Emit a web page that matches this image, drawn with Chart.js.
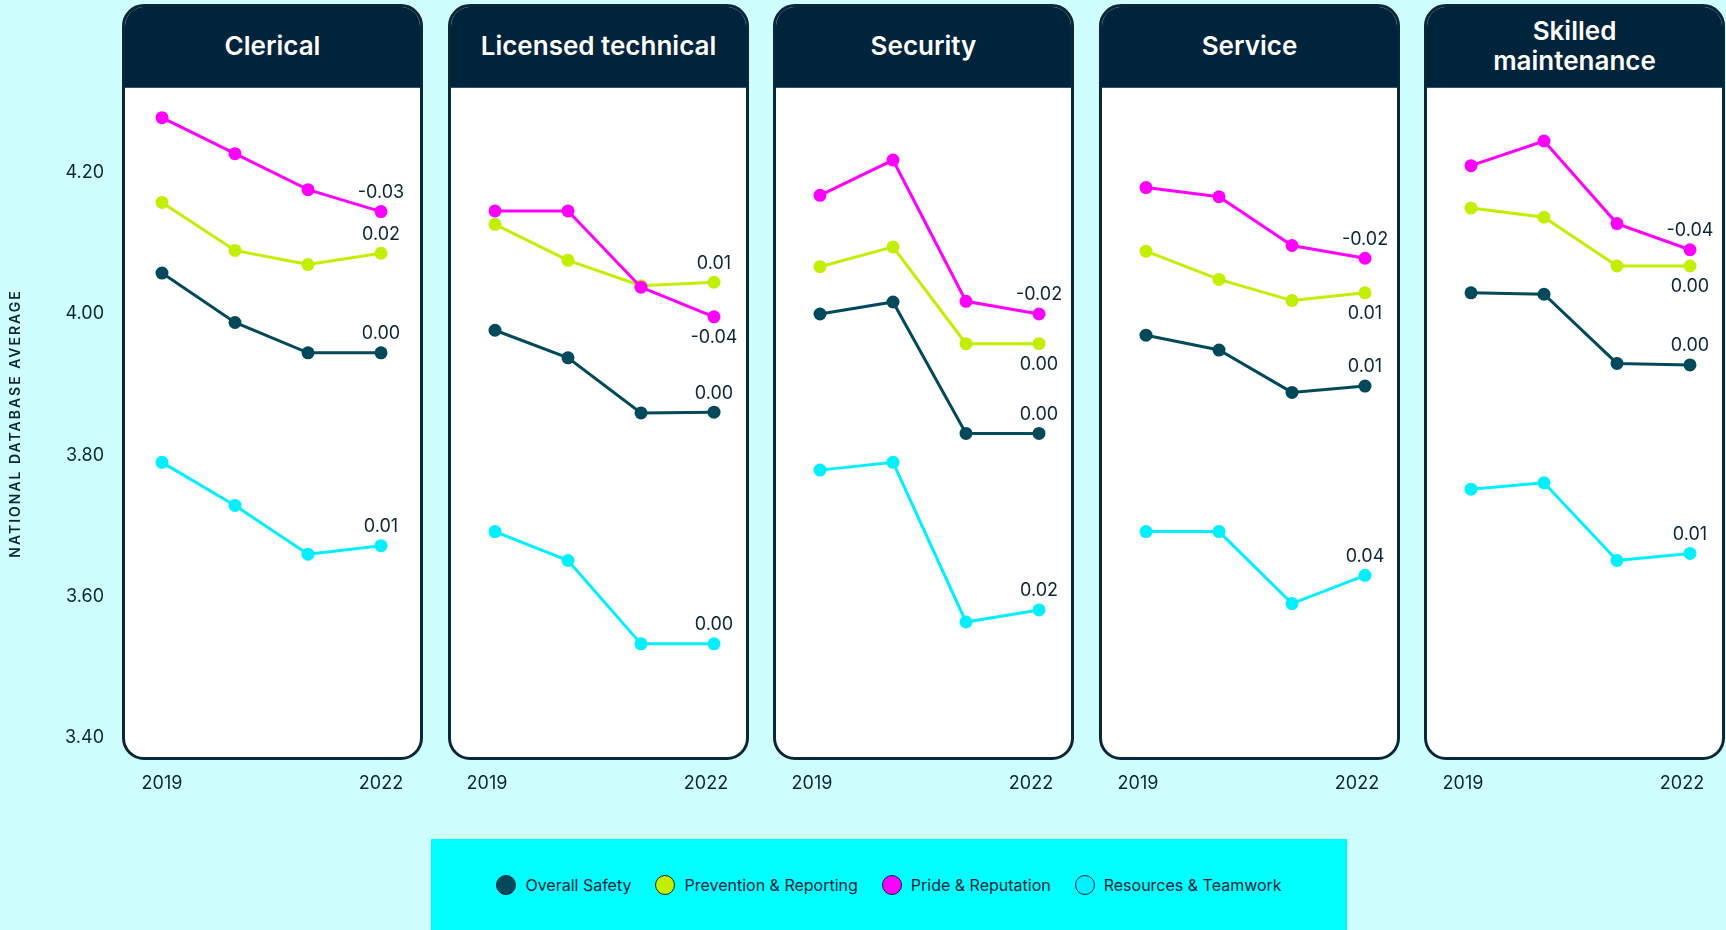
<!DOCTYPE html>
<html>
<head>
<meta charset="utf-8">
<script src="https://cdn.jsdelivr.net/npm/chart.js@4.4.1/dist/chart.umd.min.js"></script>
<style>
  body {
    margin: 0;
    width: 1726px;
    height: 930px;
    position: relative;
    overflow: hidden;
    background: #cffefe;
    font-family: Inter, "Noto Sans", sans-serif;
  }
  .panel {
    position: absolute;
    top: 4px;
    width: 301px;
    height: 756px;
    box-sizing: border-box;
    border: 3px solid #0a2638;
    border-radius: 22px;
    background: #fff;
    overflow: hidden;
  }
  .head {
    height: 77px;
    padding-bottom: 3px;
    background: #00243b;
    border-bottom: 1px solid #2f5566;
    color: #fff;
    display: flex;
    flex-direction: column;
    align-items: center;
    justify-content: center;
    font-weight: 600;
    font-size: 26px;
    line-height: 30px;
  }
  canvas { position: absolute; top: 88px; }
  #legend {
    position: absolute;
    left: 431px;
    top: 839px;
    width: 916px;
    height: 91px;
    background: #00ffff;
    display: flex;
    justify-content: center;
    align-items: center;
    color: #0a2638;
    font-size: 16px;
  }
  .item { display: flex; align-items: center; margin: 0 12px; }
  .dot {
    width: 20px;
    height: 20px;
    box-sizing: border-box;
    border-radius: 50%;
    border: 1.5px solid #0a2638;
    margin-right: 9px;
  }
</style>
</head>
<body>
<div id="legend"></div>
<script>
const years = ["2019", "2020", "2021", "2022"];
const panelTitles = [["Clerical"], ["Licensed technical"], ["Security"], ["Service"], ["Skilled", "maintenance"]];
const seriesNames = ["Overall Safety", "Prevention & Reporting", "Pride & Reputation", "Resources & Teamwork"];
const yTicks = [3.4, 3.6, 3.8, 4.0, 4.2];
const yTitle = "NATIONAL DATABASE AVERAGE";

// one row per panel, one value per year
const overallSafety = [
  [4.058, 3.988, 3.945, 3.945],
  [3.977, 3.938, 3.860, 3.861],
  [4.000, 4.017, 3.831, 3.831],
  [3.970, 3.949, 3.889, 3.898],
  [4.030, 4.028, 3.930, 3.928],
];
const preventionReporting = [
  [4.158, 4.090, 4.070, 4.086],
  [4.127, 4.076, 4.040, 4.045],
  [4.067, 4.095, 3.958, 3.958],
  [4.089, 4.049, 4.019, 4.030],
  [4.150, 4.137, 4.068, 4.068],
];
const prideReputation = [
  [4.278, 4.227, 4.176, 4.145],
  [4.146, 4.146, 4.038, 3.996],
  [4.168, 4.218, 4.018, 4.000],
  [4.179, 4.166, 4.097, 4.079],
  [4.210, 4.245, 4.128, 4.091],
];
const resourcesTeamwork = [
  [3.790, 3.729, 3.660, 3.672],
  [3.692, 3.651, 3.533, 3.533],
  [3.779, 3.790, 3.564, 3.581],
  [3.692, 3.692, 3.590, 3.630],
  [3.752, 3.761, 3.651, 3.661],
];

// change shown next to the 2022 point, per panel
const overallChange = ["0.00", "0.00", "0.00", "0.01", "0.00"];
const preventionChange = ["0.02", "0.01", "0.00", "0.01", "0.00"];
const prideChange = ["-0.03", "-0.04", "-0.02", "-0.02", "-0.04"];
const resourcesChange = ["0.01", "0.00", "0.02", "0.04", "0.01"];

const series = [overallSafety, preventionReporting, prideReputation, resourcesTeamwork];
const changes = [overallChange, preventionChange, prideChange, resourcesChange];
// label under the point instead of above it
const labelBelow = [
  [false, false, false, false, false],
  [false, false, true, true, true],
  [false, true, false, false, false],
  [false, false, false, false, false],
];

const colors = ["#02495c", "#c2ee00", "#ff00ff", "#00f0ff"];
const drawOrder = [1, 2, 0, 3];
const ink = "#0a2638";
const font = "Inter, 'Noto Sans', sans-serif";
const yMin = 3.37;
const yMax = 4.32;

// legend
const legend = document.getElementById("legend");
seriesNames.forEach((name, k) => {
  const item = document.createElement("div");
  item.className = "item";
  item.innerHTML = `<span class="dot" style="background:${colors[k]}"></span><span>${name}</span>`;
  legend.appendChild(item);
});

function makePanel(i) {
  const first = i === 0;
  const left = Math.round(122 + i * 325.5);

  const panel = document.createElement("div");
  panel.className = "panel";
  panel.style.left = left + "px";
  const head = document.createElement("div");
  head.className = "head";
  panelTitles[i].forEach((line) => {
    const s = document.createElement("span");
    s.textContent = line;
    head.appendChild(s);
  });
  panel.appendChild(head);
  document.body.appendChild(panel);

  const canvas = document.createElement("canvas");
  canvas.width = first ? 422 : 301;
  canvas.height = 722;
  canvas.style.left = (first ? 0 : left) + "px";
  document.body.appendChild(canvas);

  //Draws the change value beside the last point (and the spaced-out axis title)
  const changeLabels = {
    id: "changeLabels",
    afterDatasetsDraw(chart) {
      const ctx = chart.ctx;
      ctx.save();
      ctx.font = `18px ${font}`;
      ctx.fillStyle = ink;
      ctx.textAlign = "center";
      ctx.textBaseline = "middle";
      series.forEach((s, k) => {
        const pt = chart.getDatasetMeta(k).data[years.length - 1];
        const y = labelBelow[k][i] ? pt.y + 21 : pt.y - 19;
        ctx.fillText(changes[k][i], pt.x, y);
      });
      if (first) {
        const area = chart.chartArea;
        ctx.font = `600 14px ${font}`;
        ctx.letterSpacing = "2px";
        ctx.translate(16, (area.top + area.bottom) / 2);
        ctx.rotate(-Math.PI / 2);
        ctx.fillText(yTitle, 0, 0);
      }
      ctx.restore();
    },
  };

  new Chart(canvas, {
    type: "line",
    data: {
      labels: years,
      datasets: series.map((s, k) => ({
        label: seriesNames[k],
        data: s[i],
        borderColor: colors[k],
        backgroundColor: colors[k],
        borderWidth: 3,
        pointRadius: 6.5,
        pointHoverRadius: 6.5,
        pointBorderWidth: 0,
        tension: 0,
        clip: false,
        order: drawOrder[k],
      })),
    },
    options: {
      responsive: false,
      animation: false,
      events: [],
      layout: {
        autoPadding: false,
        padding: { left: first ? 0 : 47, right: first ? 41 : 35, top: 0, bottom: 0 },
      },
      plugins: {
        legend: { display: false },
        tooltip: { enabled: false },
      },
      scales: {
        x: {
          grid: { display: false, drawTicks: false },
          border: { display: false },
          ticks: {
            autoSkip: false,
            maxRotation: 0,
            padding: 14,
            labelOffset: first ? 0 : -8,
            color: ink,
            font: { size: 18, family: font },
            callback: (v, idx) => (idx === 0 || idx === years.length - 1 ? years[idx] : ""),
          },
          afterFit: (scale) => {
            scale.height = 51;
            scale.paddingLeft = 0;
            scale.paddingRight = 0;
          },
        },
        y: {
          display: first,
          min: yMin,
          max: yMax,
          grid: { display: false, drawTicks: false },
          border: { display: false },
          afterBuildTicks: (scale) => { scale.ticks = yTicks.map((v) => ({ value: v })); },
          afterFit: (scale) => {
            scale.width = first ? 162 : 0;
            scale.paddingTop = 0;
            scale.paddingBottom = 0;
          },
          ticks: {
            padding: 58,
            color: ink,
            font: { size: 18, family: font },
            callback: (v) => v.toFixed(2),
          },
        },
      },
    },
    plugins: [changeLabels],
  });
}

for (let i = 0; i < panelTitles.length; i++) makePanel(i);
</script>
</body>
</html>
